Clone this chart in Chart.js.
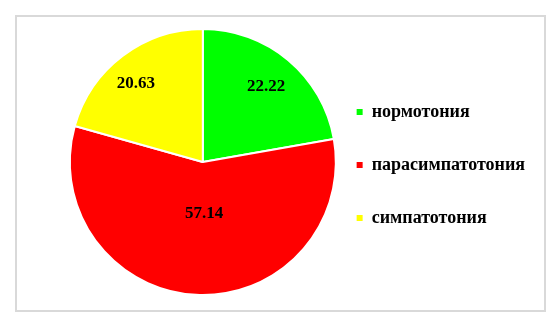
<!DOCTYPE html>
<html>
<head>
<meta charset="utf-8">
<script src="https://cdn.jsdelivr.net/npm/chart.js@4/dist/chart.umd.min.js"></script>
<style>
  html, body { margin: 0; padding: 0; background: #fff; }
  #wrap { position: relative; width: 559px; height: 327px; }
  #frame {
    position: absolute; left: 15px; top: 15px; width: 531px; height: 297px;
    box-sizing: border-box; border: 2px solid #d9d9d9;
  }
  #chart1 { position: absolute; left: 0; top: 0; }
</style>
</head>
<body>
<div id="wrap">
  <div id="frame"></div>
  <canvas id="chart1" width="559" height="327"></canvas>
</div>
<script>
"use strict";

var categories = ['нормотония', 'парасимпатотония', 'симпатотония'];
var shares = [22.22, 57.14, 20.63];
var sliceColors = ['#00FF00', '#FF0000', '#FFFF00'];

// value labels inside the slices
var sliceLabels = {
  id: 'sliceLabels',
  afterDatasetsDraw: function (chart, args, opts) {
    var ctx = chart.ctx;
    var meta = chart.getDatasetMeta(0);
    ctx.save();
    ctx.font = 'bold 17px "Liberation Serif", "Times New Roman", serif';
    ctx.fillStyle = '#000';
    ctx.textAlign = 'center';
    ctx.textBaseline = 'middle';
    meta.data.forEach(function (arc, i) {
      var p = arc.getProps(['x', 'y', 'startAngle', 'endAngle', 'outerRadius'], true);
      var mid = (p.startAngle + p.endAngle) / 2;
      var r = p.outerRadius * opts.radius[i];
      var x = p.x + Math.cos(mid) * r + opts.shiftX[i];
      var y = p.y + Math.sin(mid) * r + opts.shiftY[i];
      ctx.fillText(String(shares[i]), x, y);
    });
    ctx.restore();
  }
};

var ctx = document.getElementById('chart1').getContext('2d');
new Chart(ctx, {
  type: 'pie',
  data: {
    labels: categories,
    datasets: [{
      data: shares,
      backgroundColor: sliceColors,
      borderColor: '#FFFFFF',
      borderWidth: 2,
      radius: 133
    }]
  },
  options: {
    responsive: false,
    animation: false,
    layout: {
      padding: { left: 84, right: 24, top: 20, bottom: 23 }
    },
    plugins: {
      tooltip: { enabled: false },
      legend: {
        display: true,
        position: 'right',
        // empty title only nudges the items a few pixels down
        title: { display: true, text: '', font: { size: 1 }, padding: { top: 0, bottom: 5 } },
        labels: {
          boxWidth: 6,
          boxHeight: 6,
          padding: 35,
          color: '#000',
          font: { family: '"Liberation Serif", "Times New Roman", serif', size: 18, weight: 'bold' },
          generateLabels: function (chart) {
            var items = Chart.overrides.pie.plugins.legend.labels.generateLabels(chart);
            items.forEach(function (it) { it.lineWidth = 0; });
            return items;
          }
        }
      },
      sliceLabels: {
        radius: [0.74, 0.39, 0.77],
        shiftX: [0, 4, -5],
        shiftY: [0, 0, 3]
      }
    }
  },
  plugins: [sliceLabels]
});
</script>
</body>
</html>
